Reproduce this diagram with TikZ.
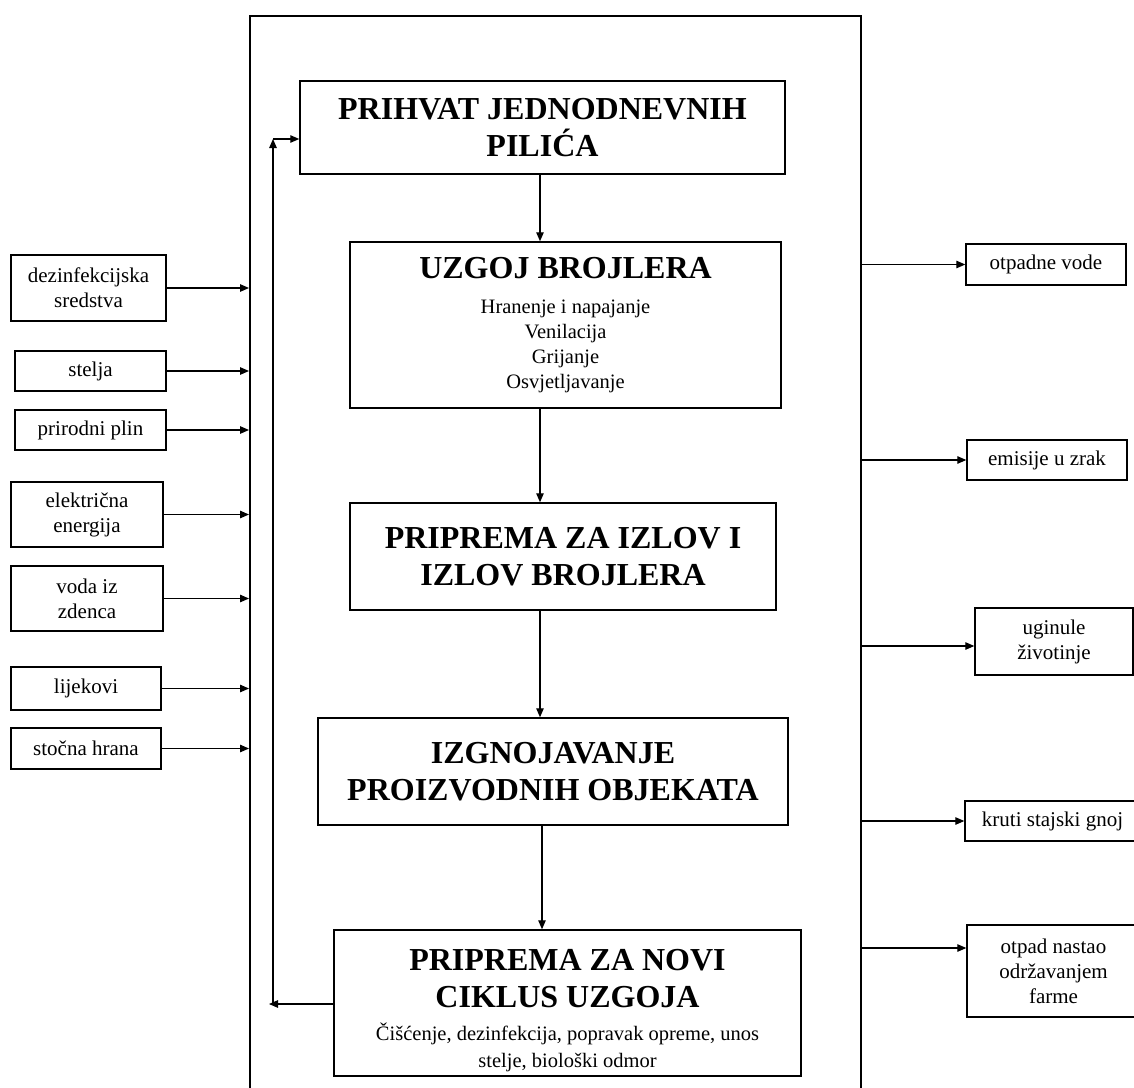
\documentclass[tikz,border=0pt]{standalone}
\usepackage{fontspec}
\setmainfont{Liberation Serif}
\usetikzlibrary{arrows.meta,calc}
\newcommand\hdfont{\fontsize{32}{37.5}\selectfont\bfseries}
\newcommand\subfont{\fontsize{20.5}{25}\selectfont}
\newcommand\sidefont{\fontsize{21}{25}\selectfont}
\tikzset{
  box/.style={draw, line width=1.5pt, inner sep=2pt, align=center, font=\hdfont},
  side/.style={draw, line width=1.4pt, inner sep=2pt, align=center, font=\sidefont},
  arr/.style={line width=1.2pt, -{Triangle[length=9pt,width=7.5pt]}},
}
\begin{document}
\begin{tikzpicture}[x=1pt,y=-1pt]
\useasboundingbox (0,0) rectangle (1134,1087);
% outer frame (open at the bottom of the page)
\node[draw, line width=1.8pt, minimum width=611pt, minimum height=1110pt, anchor=north west, inner sep=0pt] (frame) at (249,15) {};

% central process boxes
\node[box, minimum width=485pt, minimum height=93pt] (b1) at (542.5,127.5) {PRIHVAT JEDNODNEVNIH\\PILIĆA};
\node[box, minimum width=431pt, minimum height=166pt, font=\subfont] (b2) at (565.5,325)
  {{\hdfont UZGOJ BROJLERA}\\[10pt]Hranenje i napajanje\\Venilacija\\Grijanje\\Osvjetljavanje};
\node[box, minimum width=426pt, minimum height=107pt] (b3) at (563,556.5) {PRIPREMA ZA IZLOV I\\IZLOV BROJLERA};
\node[box, minimum width=470pt, minimum height=107pt] (b4) at (553,771.5) {IZGNOJAVANJE\\PROIZVODNIH OBJEKATA};
\node[box, minimum width=467pt, minimum height=146pt, font=\fontsize{20.5}{27}\selectfont] (b5) at (567.5,1003)
  {\rule{0pt}{36pt}{\hdfont PRIPREMA ZA NOVI}\\[10.5pt]{\hdfont CIKLUS UZGOJA}\\[6pt]Čišćenje, dezinfekcija, popravak opreme, unos\\stelje, biološki odmor};

% flow arrows
\draw[arr] (b1.south -| 540,0) -- (b2.north -| 540,0);
\draw[arr] (b2.south -| 540,0) -- (b3.north -| 540,0);
\draw[arr] (b3.south -| 540,0) -- (b4.north -| 540,0);
\draw[arr] (b4.south -| 542,0) -- (b5.north -| 542,0);

% feedback loop
\coordinate (fbTop) at (273,139);
\coordinate (fbBot) at (273,1004);
\draw[line width=1.2pt] (b5.west |- fbBot) -- (fbBot);
\draw[arr] (b5.west |- fbBot) -- ($(fbBot)+(-4,0)$);
\draw[arr] (fbBot) -- (fbTop);
\draw[arr] (fbTop) -- (fbTop -| b1.west);

% inputs (left)
\node[side, minimum width=155pt, minimum height=66pt] (dez) at (88.5,288) {dezinfekcijska\\sredstva};
\node[side, minimum width=151pt, minimum height=40pt] (stel) at (90.5,371) {stelja};
\node[side, minimum width=151pt, minimum height=40pt] (plin) at (90.5,430) {prirodni plin};
\node[side, minimum width=152pt, minimum height=65pt] (elek) at (87,514.5) {električna\\energija};
\node[side, minimum width=152pt, minimum height=65pt] (voda) at (87,598.5) {voda iz\\zdenca};
\node[side, minimum width=150pt, minimum height=43pt] (lijek) at (86,688.5) {lijekovi};
\node[side, minimum width=150pt, minimum height=41pt] (hrana) at (86,748.5) {stočna hrana};
\foreach \n in {dez,stel,plin,elek,voda,lijek,hrana}
  \draw[arr] (\n.east) -- (\n.east -| frame.west);

% outputs (right)
\node[side, minimum width=160pt, minimum height=41pt] (otpv) at (1046,264.5) {otpadne vode};
\node[side, minimum width=160pt, minimum height=40pt] (emis) at (1047,460) {emisije u zrak};
\node[side, minimum width=158pt, minimum height=67pt] (ugin) at (1054,641.5) {uginule\\životinje};
\node[side, minimum width=175pt, minimum height=40pt] (kruti) at (1052.5,821) {kruti stajski gnoj};
\node[side, minimum width=173pt, minimum height=92pt] (otpad) at (1053.5,971) {otpad nastao\\održavanjem\\farme};
\foreach \n in {otpv,emis,kruti}
  \draw[arr] (frame.east |- \n.west) -- (\n.west);
\draw[arr] (frame.east |- 0,646) -- (ugin.west |- 0,646);
\draw[arr] (frame.east |- 0,948) -- (otpad.west |- 0,948);
\end{tikzpicture}
\end{document}
